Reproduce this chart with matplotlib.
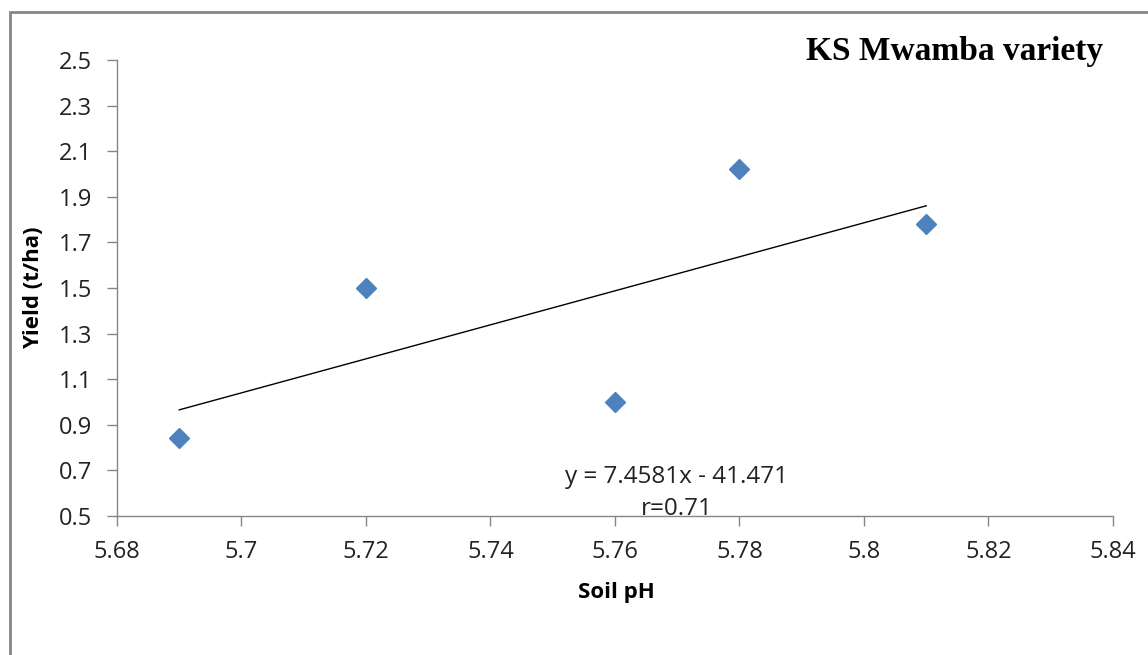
import numpy as np
import matplotlib
matplotlib.use("Agg")
import matplotlib.pyplot as plt
from matplotlib.patches import Rectangle

# soil pH vs yield, KS Mwamba variety
soil_ph = [5.69, 5.72, 5.76, 5.78, 5.81]
yield_tha = [0.84, 1.50, 1.00, 2.02, 1.78]
xticks = [5.68, 5.70, 5.72, 5.74, 5.76, 5.78, 5.80, 5.82, 5.84]
xtick_labels = ["5.68", "5.7", "5.72", "5.74", "5.76", "5.78", "5.8", "5.82", "5.84"]
yticks = [0.5, 0.7, 0.9, 1.1, 1.3, 1.5, 1.7, 1.9, 2.1, 2.3, 2.5]

grey = "#868686"

fig = plt.figure(figsize=(11.48, 6.55), dpi=100)
ax = fig.add_axes([0.1019, 0.2122, 0.8676, 0.6962])

ax.plot(soil_ph, yield_tha, linestyle="none", marker="D", markersize=10.5,
        color="#4F81BD", zorder=3)

# linear trendline
m, b = np.polyfit(soil_ph, yield_tha, 1)
xs = np.array([min(soil_ph), max(soil_ph)])
ax.plot(xs, m * xs + b, color="black", lw=1)

ax.set_xlim(5.68, 5.84)
ax.set_ylim(0.5, 2.5)
ax.set_xticks(xticks)
ax.set_xticklabels(xtick_labels)
ax.set_yticks(yticks)
ax.set_yticklabels(["%.1f" % v for v in yticks])

for s in ["top", "right"]:
    ax.spines[s].set_visible(False)
for s in ["left", "bottom"]:
    ax.spines[s].set_color(grey)
    ax.spines[s].set_linewidth(1)
ax.tick_params(direction="out", length=7, width=1, color=grey,
               labelsize=17, labelcolor="#222222")
for lab in ax.get_xticklabels() + ax.get_yticklabels():
    lab.set_family("Open Sans")
ax.tick_params(axis="x", pad=10)
ax.tick_params(axis="y", pad=11)

ax.set_xlabel("Soil pH", fontsize=16, fontweight="bold", family="Open Sans", va="center")
ax.set_ylabel("Yield (t/ha)", fontsize=16, fontweight="bold", family="Open Sans", va="center")
ax.xaxis.set_label_coords(0.501, -0.167)
ax.yaxis.set_label_coords(-0.084, 0.5)

ax.text(0.562, 0.0855, "y = 7.4581x - 41.471", transform=ax.transAxes,
        fontsize=17.5, family="Open Sans", color="#222222", ha="center", va="center")
ax.text(0.562, 0.016, "r=0.71", transform=ax.transAxes,
        fontsize=17.5, family="Open Sans", color="#222222", ha="center", va="center")

fig.text(0.961, 0.922, "KS Mwamba variety", fontsize=24, fontweight="bold",
         family="Liberation Serif", ha="right", va="center")

# outer chart border
fig.patches.append(Rectangle((10 / 1148, -0.1), 1.2, 1 - 12 / 655 + 0.1,
                             transform=fig.transFigure, fill=False,
                             edgecolor=grey, lw=2))

fig.savefig("out.png", dpi=100)
